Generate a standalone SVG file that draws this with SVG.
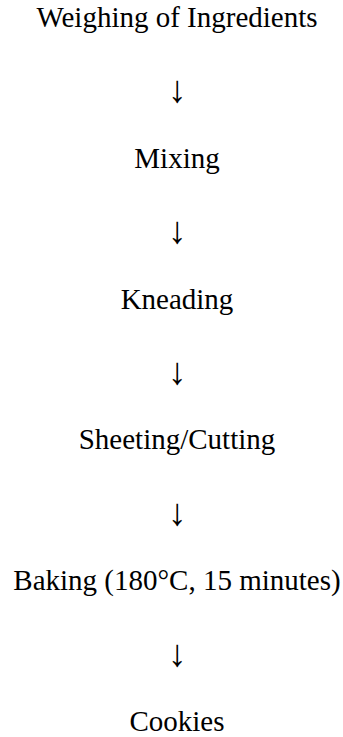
<svg xmlns="http://www.w3.org/2000/svg" width="343" height="737" viewBox="0 0 343 737">
  <style>
    .step { font-family: "Liberation Serif", "Times New Roman", serif; font-size: 29px; fill: #000; text-anchor: middle; }
    .arrow { font-family: "Liberation Serif", "Times New Roman", serif; font-size: 38px; fill: #000; text-anchor: middle; }
  </style>
  <rect width="343" height="737" fill="#fff"/>
  <!-- process steps, top to bottom -->
  <g id="weighing"><text class="step" x="177" y="27">Weighing of Ingredients</text></g>
  <g id="mixing"><text class="step" x="177" y="167.8">Mixing</text></g>
  <g id="kneading"><text class="step" x="177" y="308.6">Kneading</text></g>
  <g id="sheeting"><text class="step" x="177" y="449.4">Sheeting/Cutting</text></g>
  <g id="baking"><text class="step" x="177" y="590.2">Baking (180°C, 15 minutes)</text></g>
  <g id="cookies"><text class="step" x="177" y="731">Cookies</text></g>
  <!-- down arrows between steps, set as text glyphs -->
  <g id="connectors">
    <text class="arrow" x="177" y="102">↓</text>
    <text class="arrow" x="177" y="243">↓</text>
    <text class="arrow" x="177" y="384">↓</text>
    <text class="arrow" x="177" y="525">↓</text>
    <text class="arrow" x="177" y="666">↓</text>
  </g>
</svg>
